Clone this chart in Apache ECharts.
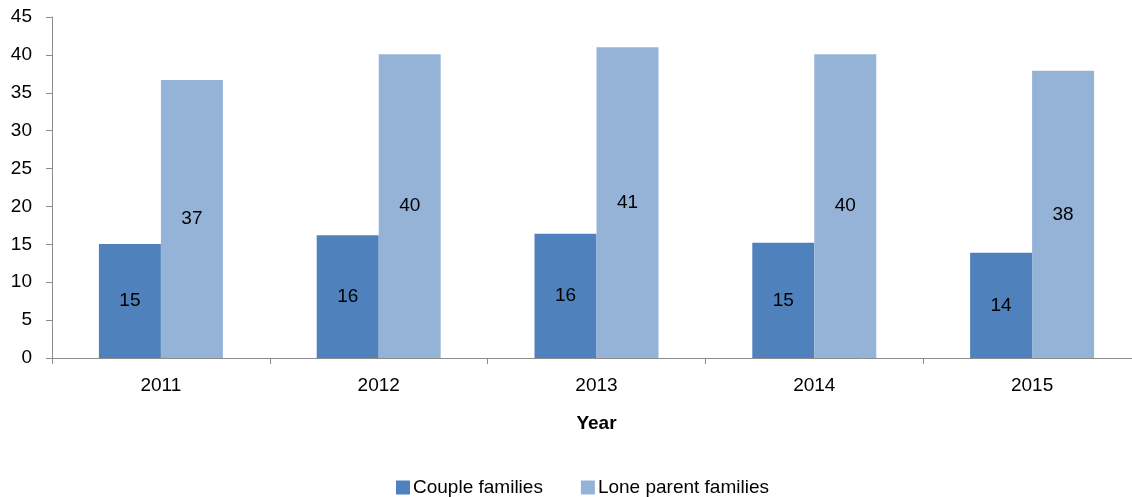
<!DOCTYPE html>
<html>
<head>
<meta charset="utf-8">
<script src="https://cdn.jsdelivr.net/npm/echarts@6/dist/echarts.min.js"></script>
<style>
  html, body { margin: 0; padding: 0; background: #fff; }
  #chart { width: 1132px; height: 497px; }
</style>
</head>
<body>
<div id="chart"></div>
<script>
// data
const years = ['2011', '2012', '2013', '2014', '2015']
const coupleFamilies = [15.05, 16.2, 16.4, 15.2, 13.9]
const loneParentFamilies = [36.7, 40.1, 41.0, 40.1, 37.9]

const FONT = '"Liberation Sans", Arial, sans-serif'
const AXIS_GREY = '#8c8c8c'

const chart = echarts.init(document.getElementById('chart'))

const barLabel = {
  show: true,
  position: 'inside',
  color: '#000',
  fontFamily: FONT,
  fontSize: 19,
  formatter: p => Math.round(p.value)
}

chart.setOption({
  animation: false,
  // the plot runs a little past the right edge of the picture
  grid: { left: 52, width: 1089, top: 17, bottom: 139, outerBoundsMode: 'none' },
  legend: {
    left: 396,
    top: 478,
    padding: 0,
    itemWidth: 14,
    itemHeight: 14,
    itemGap: 38,
    icon: 'rect',
    textStyle: { fontFamily: FONT, fontSize: 19, color: '#000', padding: [0, 0, 0, -2] },
    data: ['Couple families', 'Lone parent families']
  },
  xAxis: {
    type: 'category',
    data: years,
    name: 'Year',
    nameLocation: 'middle',
    nameGap: 56,
    nameTextStyle: { fontFamily: FONT, fontSize: 19, fontWeight: 'bold', color: '#000' },
    axisLine: { lineStyle: { color: AXIS_GREY, width: 1 } },
    axisTick: { show: true, length: 6, interval: 0, lineStyle: { color: AXIS_GREY } },
    axisLabel: { margin: 18, fontFamily: FONT, fontSize: 19, color: '#000' },
    splitLine: { show: false }
  },
  yAxis: {
    type: 'value',
    min: 0,
    max: 45,
    interval: 5,
    axisLine: { show: true, lineStyle: { color: AXIS_GREY, width: 1 } },
    axisTick: { show: true, length: 6, lineStyle: { color: AXIS_GREY } },
    axisLabel: { margin: 20, fontFamily: FONT, fontSize: 19, color: '#000' },
    splitLine: { show: false }
  },
  series: [
    {
      name: 'Couple families',
      type: 'bar',
      data: coupleFamilies,
      barWidth: 62,
      barGap: '0%',
      itemStyle: { color: '#4f81bd' },
      label: barLabel
    },
    {
      name: 'Lone parent families',
      type: 'bar',
      data: loneParentFamilies,
      barWidth: 62,
      barGap: '0%',
      itemStyle: { color: '#95b3d7' },
      label: barLabel
    }
  ]
})

window.addEventListener('resize', () => {
  chart.resize()
})
</script>
</body>
</html>
